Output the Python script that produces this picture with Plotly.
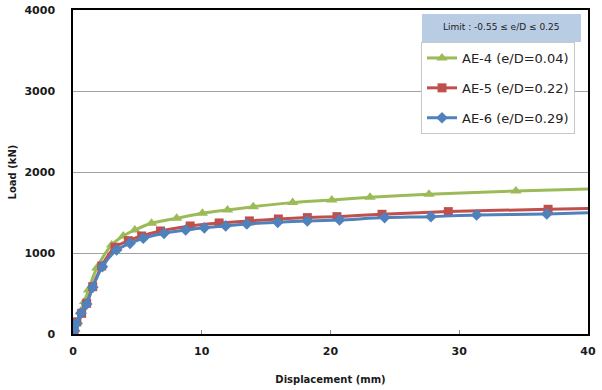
import plotly.graph_objects as go

# Data
ae4_x = [0, 0.15, 0.35, 0.6, 0.9, 1.2, 1.85, 3.0, 3.9, 4.8, 6.1, 8.05, 10.05, 12.0, 14.0, 17.06, 20.1, 23.07, 27.65, 34.4, 41.5]
ae4_y = [0, 60, 150, 280, 400, 543, 815, 1099, 1210, 1284, 1367, 1429, 1490, 1531, 1572, 1622, 1655, 1688, 1725, 1766, 1795]

ae5_x = [0, 0.1, 0.3, 0.67, 1.06, 1.53, 2.23, 3.26, 4.3, 5.33, 6.8, 9.1, 11.35, 13.7, 15.95, 18.2, 20.5, 24.0, 29.15, 36.9, 41.5]
ae5_y = [0, 60, 150, 255, 379, 584, 840, 1071, 1152, 1210, 1272, 1334, 1371, 1396, 1420, 1437, 1449, 1478, 1511, 1540, 1555]

ae6_x = [0, 0.1, 0.28, 0.62, 1.06, 1.53, 2.28, 3.39, 4.43, 5.46, 7.07, 8.75, 10.2, 11.86, 13.5, 15.9, 18.2, 20.7, 24.2, 27.8, 31.35, 36.8, 41.5]
ae6_y = [0, 40, 132, 255, 370, 577, 831, 1037, 1120, 1182, 1243, 1284, 1311, 1334, 1358, 1379, 1396, 1408, 1437, 1449, 1470, 1482, 1502]

names = ["AE-4 (e/D=0.04)", "AE-5 (e/D=0.22)", "AE-6 (e/D=0.29)"]
x_ticks = [0, 10, 20, 30, 40]
y_ticks = [0, 1000, 2000, 3000, 4000]
header_text = "Limit : -0.55 \u2264 e/D \u2264 0.25"

fig = go.Figure()
series = [
    (ae4_x, ae4_y, names[0], "#9bbb59", "triangle-up", 10),
    (ae5_x, ae5_y, names[1], "#c0504d", "square", 9),
    (ae6_x, ae6_y, names[2], "#4f81bd", "diamond", 9),
]
for i, (xs, ys, nm, col, sym, sz) in enumerate(series):
    fig.add_trace(go.Scatter(
        x=xs, y=ys, name=nm, mode="lines+markers",
        line=dict(color=col, width=3, shape="spline", smoothing=0.8),
        marker=dict(symbol=sym, size=sz, color=col),
        legendgroup=f"g{i}",
    ))

tickfont = dict(family="DejaVu Sans", size=11, color="#1a1a1a", weight="bold")
titlefont = dict(family="DejaVu Sans", size=10, color="#1a1a1a", weight="bold")
fig.update_xaxes(
    range=[0, 40], tickvals=x_ticks, showgrid=False, zeroline=False,
    showline=True, linecolor="#000", linewidth=1.5, mirror=True,
    ticks="inside", ticklen=4, tickcolor="#888", automargin=False,
    tickfont=tickfont, ticklabelstandoff=6,
    title=dict(text="Displacement (mm)", font=titlefont, standoff=19),
)
fig.update_yaxes(
    range=[0, 4000], tickvals=y_ticks, showgrid=True, gridcolor="#a0a0a0", gridwidth=1,
    zeroline=False, showline=True, linecolor="#000", linewidth=1.5, mirror=True,
    ticks="", tickfont=tickfont, ticklabelstandoff=14, automargin=False,
    title=dict(text="Load (kN)", font=titlefont, standoff=6),
)

fig.add_shape(type="rect", xref="paper", yref="paper",
              x0=(422 - 73) / 515, x1=(581 - 73) / 515,
              y0=(334 - 42) / 324, y1=(334 - 14) / 324,
              fillcolor="#b8cce4", line=dict(width=0), layer="above")
fig.add_annotation(xref="paper", yref="paper", x=(501 - 73) / 515, y=(334 - 27) / 324,
                   xanchor="center", yanchor="middle",
                   text=header_text, showarrow=False,
                   font=dict(family="DejaVu Sans", size=9, color="#222"))

fig.update_layout(
    width=602, height=390,
    margin=dict(l=73, r=14, t=10, b=56),
    paper_bgcolor="white", plot_bgcolor="white",
    legend=dict(
        x=(421 - 73) / 515, y=(334 - 42) / 324, xanchor="left", yanchor="top",
        bgcolor="white", bordercolor="#c8c8c8", borderwidth=1,
        font=dict(family="DejaVu Sans", size=13, color="#222"),
        traceorder="grouped", tracegroupgap=10, itemwidth=30,
    ),
)

fig.write_html("out.html")
